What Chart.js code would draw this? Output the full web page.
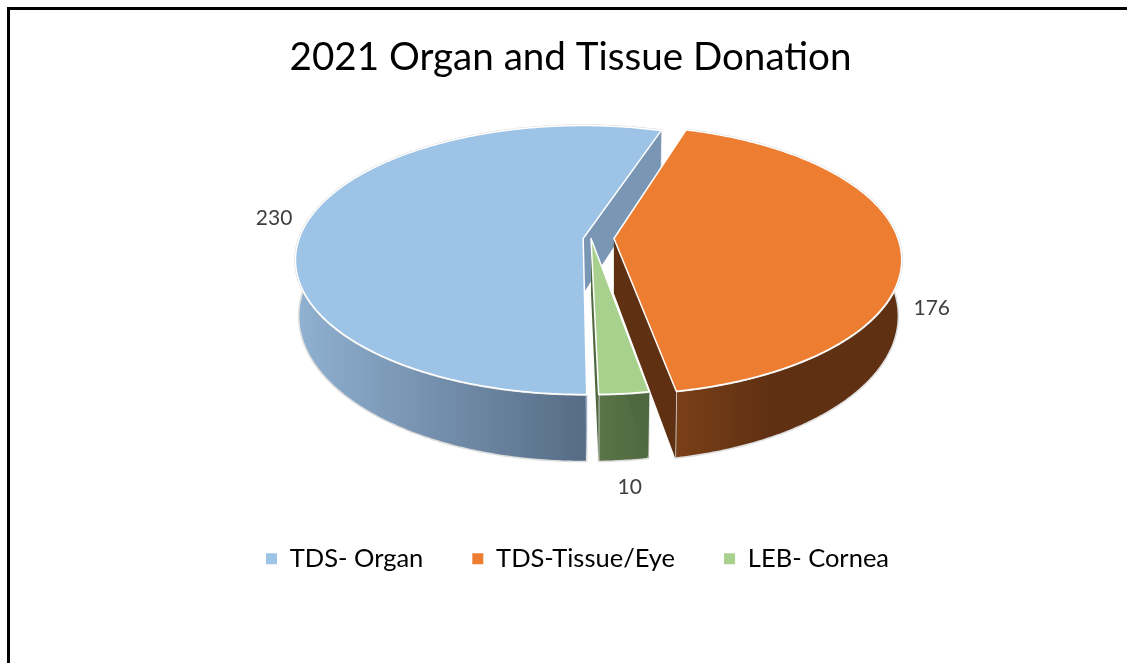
<!DOCTYPE html>
<html><head><meta charset="utf-8">
<style>html,body{margin:0;padding:0;background:#fff}#w{width:1127px;height:663px;position:relative;overflow:hidden}canvas{display:block}
#f{position:absolute;left:7px;top:7px;width:1200px;height:800px;border:3px solid #000;pointer-events:none}</style>
<script src="https://cdn.jsdelivr.net/npm/chart.js@4/dist/chart.umd.js"></script>
</head><body><div id="w"><canvas id="c" width="1127" height="663"></canvas><div id="f"></div></div>
<script>
const categories = ['TDS- Organ', 'TDS-Tissue/Eye', 'LEB- Cornea'];
const values = [230, 176, 10];
const chartTitle = '2021 Organ and Tissue Donation';

const topColors = ['#9DC3E6', '#ED7D31', '#A9D18E'];
const cutWallColors = ['#7A96B5', '#5F3012', '#50683F'];
const sideGradients = [
  [[300, '#8FB0D0'], [587, '#566B85']],
  [[675, '#7A4018'], [770, '#5F3012']],
  [[597, '#5A7548'], [648, '#50683F']]
];
const explodePx = [15.5, 15.5, 0];
const sliceNudge = [0, 0, -7.5];
const sliceTwistDeg = [0.4, -1.0, -0.3];
const view = {
  cx: 598.5,
  top: { cy: 238.5, R: 284, Ry: 131, k: 0.16 },
  bottom: { cy: 293.5, R: 281, Ry: 142, k: 0.155 }
};
const labelPlane = ['top', 'bottom', 'bottom'];
const labelReach = 1.13;
const labelNudge = [[0, 1], [-3, 3], [3, 0]];

function project(plane, a, r, ox) {
  const X = Math.cos(a) * r, Y = Math.sin(a) * r;
  const s = 1 / (1 - plane.k * Y);
  return [view.cx + ox + X * plane.R * s, plane.cy + Y * plane.Ry * s];
}
function arcPoints(plane, a0, a1, ox) {
  const n = Math.max(2, Math.ceil(Math.abs(a1 - a0) / 0.01)), pts = [];
  for (let i = 0; i <= n; i++) pts.push(project(plane, a0 + (a1 - a0) * i / n, 1, ox));
  return pts;
}
function poly(ctx, pts, close) {
  ctx.beginPath();
  pts.forEach((p, i) => i ? ctx.lineTo(p[0], p[1]) : ctx.moveTo(p[0], p[1]));
  if (close) ctx.closePath();
}

const pie3d = {
  id: 'pie3d',
  afterLayout(chart) {
    const lg = chart.legend, t = chart.titleBlock;
    const o = chart.options.plugins.pie3d;
    lg.left += o.legendDx; lg.right += o.legendDx; lg.top = o.legendTop; lg.bottom = lg.top + lg.height;
    t.top = o.titleTop; t.bottom = t.top + t.height; t.left += o.titleDx; t.right += o.titleDx;
  },
  beforeDatasetsDraw(chart) {
    const ctx = chart.ctx, arcs = chart.getDatasetMeta(0).data;
    ctx.save();
    ctx.lineJoin = 'round';
    arcs.forEach((arc, i) => {
      const tw = sliceTwistDeg[i] * Math.PI / 180;
      const a0 = arc.startAngle + tw, a1 = arc.endAngle + tw;
      const mid = (arc.startAngle + arc.endAngle) / 2;
      const ox = Math.cos(mid) * explodePx[i] + sliceNudge[i];
      const T = view.top, B = view.bottom;
      const topArc = arcPoints(T, a0, a1, ox), botArc = arcPoints(B, a0, a1, ox);
      const ct = project(T, 0, 0, ox), cb = project(B, 0, 0, ox);
      const g = ctx.createLinearGradient(sideGradients[i][0][0], 0, sideGradients[i][1][0], 0);
      g.addColorStop(0, sideGradients[i][0][1]); g.addColorStop(1, sideGradients[i][1][1]);
      poly(ctx, topArc.concat(botArc.slice().reverse()), true);
      ctx.fillStyle = g; ctx.fill();
      ctx.strokeStyle = '#DEDEDE'; ctx.lineWidth = 1.6; ctx.stroke();
      [[topArc[0], botArc[0]], [topArc[topArc.length - 1], botArc[botArc.length - 1]]].forEach(e => {
        poly(ctx, [ct, e[0], e[1], cb], true);
        ctx.fillStyle = cutWallColors[i]; ctx.fill();
      });
      poly(ctx, topArc, false);
      ctx.strokeStyle = '#DADADA'; ctx.lineWidth = 2.4; ctx.stroke();
      poly(ctx, [ct].concat(topArc), true);
      ctx.fillStyle = topColors[i]; ctx.fill();
      ctx.strokeStyle = '#FFFFFF'; ctx.lineWidth = 1.5; ctx.stroke();
    });
    ctx.fillStyle = '#404040';
    ctx.font = '21px Lato';
    ctx.textAlign = 'center'; ctx.textBaseline = 'middle';
    arcs.forEach((arc, i) => {
      const mid = (arc.startAngle + arc.endAngle) / 2;
      const ox = Math.cos(mid) * explodePx[i] + sliceNudge[i];
      const p = project(view[labelPlane[i]], mid, labelReach, ox);
      ctx.fillText(String(values[i]), p[0] + labelNudge[i][0], p[1] + labelNudge[i][1]);
    });
    ctx.restore();
    return false;
  }
};

new Chart(document.getElementById('c'), {
  type: 'pie',
  data: { labels: categories, datasets: [{ data: values, backgroundColor: topColors, borderWidth: 0 }] },
  plugins: [pie3d],
  options: {
    responsive: false, animation: false, rotation: 179,
    plugins: {
      pie3d: { legendDx: 14, legendTop: 497, titleTop: 34, titleDx: 7 },
      tooltip: { enabled: false },
      title: { display: true, text: chartTitle, color: '#000', font: { family: 'Lato', size: 38.6, weight: 'normal' }, padding: 0 },
      legend: { position: 'bottom', labels: { color: '#000', font: { family: 'Lato', size: 25.5 }, boxWidth: 11, boxHeight: 11, padding: 49 } }
    }
  }
});
</script></body></html>
